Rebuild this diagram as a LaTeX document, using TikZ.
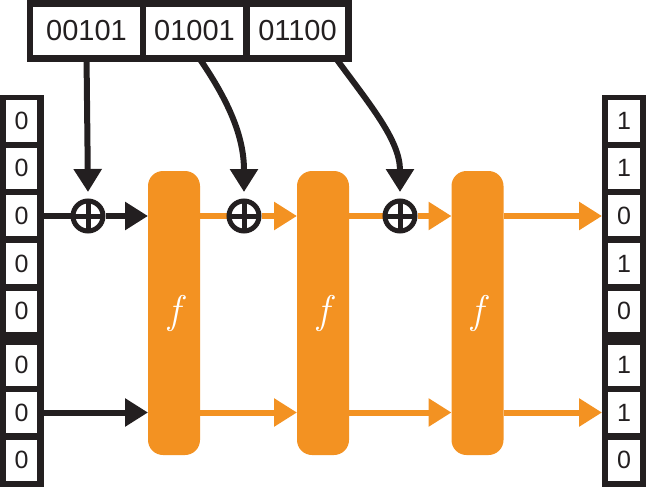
\documentclass[tikz,border=0pt]{standalone}
\usepackage{fontspec}
\setmainfont{Liberation Sans}
\newfontfamily\lmfont{Latin Modern Roman}
\usetikzlibrary{arrows.meta,calc}
\definecolor{org}{RGB}{243,146,34}
\definecolor{blk}{RGB}{35,31,32}
\pgfdeclarelayer{bg}
\pgfsetlayers{bg,main}
\begin{document}
\begin{tikzpicture}[x=1pt,y=-1pt,
 regbox/.style={fill=blk, draw=none, inner sep=0pt, outer sep=0pt, minimum width=44pt, minimum height=392pt},
 cell/.style={fill=white, inner sep=0pt, outer sep=0pt, minimum width=32pt, minimum height=41pt, font=\fontsize{25}{25}\selectfont, text=blk},
 keycell/.style={fill=white, inner sep=0pt, outer sep=0pt, minimum height=48pt, font=\fontsize{29}{29}\selectfont, text=blk},
 fblock/.style={fill=org, rounded corners=15pt, minimum width=52pt, minimum height=284pt, inner sep=0pt, outer sep=0pt, text=white, font=\fontsize{40}{40}\selectfont\lmfont\itshape},
 xor/.style={circle, draw=blk, line width=5pt, fill=white, minimum size=30pt, inner sep=0pt, path picture={\draw[blk, line width=5pt] (path picture bounding box.north) -- (path picture bounding box.south) (path picture bounding box.west) -- (path picture bounding box.east);}},
 tip/.style={-{Triangle[length=23pt,width=27pt]}},
 bline/.style={draw=blk, line width=6pt},
 oline/.style={draw=org, line width=6pt},
]
\useasboundingbox (0,0) rectangle (646,487);

% key box
\node[fill=blk, inner sep=0pt, outer sep=0pt, minimum width=325pt, minimum height=62pt] (key) at (189.5,31) {};
\node[keycell, minimum width=107pt] (k1) at (86.5,31) {00101};
\node[keycell, minimum width=97pt] (k2) at (194.5,31) {01001};
\node[keycell, minimum width=95pt] (k3) at (297.5,31) {01100};

% registers
\node[regbox] (Lreg) at (22,291) {};
\node[regbox] (Rreg) at (624,291) {};
\foreach \i/\y/\r in {1/121/1, 2/168/1, 3/215.5/0, 4/263.5/1, 5/311/0, 6/365/1, 7/412.5/1, 8/460/0}{
  \node[cell, minimum width=31pt] (L\i) at (21.5,\y) {0};
  \node[cell] (R\i) at (624,\y) {\r};
}

% f blocks
\node[fblock] (f1) at (174,313) {f};
\node[fblock] (f2) at (323,313) {f};
\node[fblock] (f3) at (477.5,313) {f};

% xors
\node[xor] (x1) at (88,216) {};
\node[xor] (x2) at (244,216) {};
\node[xor] (x3) at (400,216) {};

\begin{pgfonlayer}{bg}
% key arrows
\draw[bline,tip] (k1.south) -- ([yshift=6.5pt]x1.north);
\draw[bline,tip] ([xshift=2.5pt]k2.south) .. controls (232,105) and (244,140) .. ([yshift=6.5pt]x2.north);
\draw[bline,tip] ([xshift=36pt]k3.south) .. controls (370,105) and (400,140) .. ([yshift=6.5pt]x3.north);
% upper line
\draw[bline] (Lreg.east |- x1) -- (x1);
\draw[bline,tip] (x1) -- (x1 -| f1.west);
\draw[oline] (x2 -| f1.east) -- (x2);
\draw[oline,tip] (x2) -- (x2 -| f2.west);
\draw[oline] (x3 -| f2.east) -- (x3);
\draw[oline,tip] (x3) -- (x3 -| f3.west);
\draw[oline,tip] (x3 -| f3.east) -- (x3 -| Rreg.west);
% lower line
\draw[bline,tip] (Lreg.east |- L7) -- (L7 -| f1.west);
\draw[oline,tip] (L7 -| f1.east) -- (L7 -| f2.west);
\draw[oline,tip] (L7 -| f2.east) -- (L7 -| f3.west);
\draw[oline,tip] (L7 -| f3.east) -- (L7 -| Rreg.west);
\end{pgfonlayer}
\end{tikzpicture}
\end{document}
